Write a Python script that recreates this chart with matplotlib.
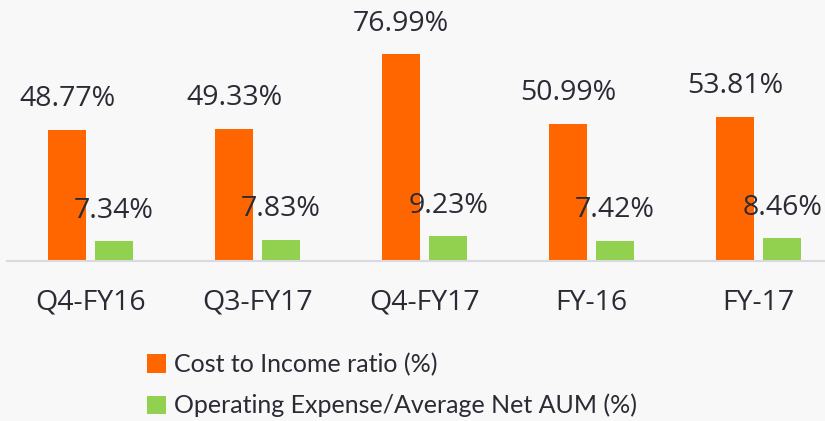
import matplotlib.pyplot as plt
import numpy as np
from matplotlib.patches import Patch

# Data
periods = ["Q4-FY16", "Q3-FY17", "Q4-FY17", "FY-16", "FY-17"]
cost_income = [48.77, 49.33, 76.99, 50.99, 53.81]
opex_aum = [7.34, 7.83, 9.23, 7.42, 8.46]
series_names = ["Cost to Income ratio (%)", "Operating Expense/Average Net AUM (%)"]

orange = "#FF6600"
green = "#92D050"
text_col = "#2B2B35"
bg = "#F8F8F8"

plt.rcParams["font.family"] = ["Open Sans", "DejaVu Sans"]

W, H = 825, 421
fig = plt.figure(figsize=(W / 100, H / 100), dpi=100, facecolor=bg)

# axes placed in pixel terms: left edge 7px, baseline 261px from top
ax = fig.add_axes([7 / W, (H - 261) / H, (W - 7) / W, 261 / H])
ax.set_facecolor(bg)

x = np.arange(len(periods))
w = 0.2275
off = 0.141

b1 = ax.bar(x - off, cost_income, w, color=orange)
b2 = ax.bar(x + off, opex_aum, w, color=green)

for bars, vals in ((b1, cost_income), (b2, opex_aum)):
    for r, v in zip(bars, vals):
        ax.annotate(f"{v:.2f}%", (r.get_x() + r.get_width() / 2, v),
                    xytext=(0, 12), textcoords="offset points",
                    ha="center", va="bottom", fontsize=20.5, color=text_col)

ax.set_xlim(-0.5, 4.398)
ax.set_ylim(0, 97.2)
ax.set_xticks(x)
ax.set_xticklabels(periods, fontsize=20.5, color=text_col)
ax.tick_params(axis="x", length=0, pad=20)
ax.set_yticks([])
for s in ["top", "right", "left"]:
    ax.spines[s].set_visible(False)
ax.spines["bottom"].set_color("#D9D9E0")
ax.spines["bottom"].set_linewidth(1.5)

# legend below the axis
handles = [Patch(facecolor=orange), Patch(facecolor=green)]
leg = fig.legend(handles, series_names, loc="upper left",
                 bbox_to_anchor=(137 / W, 1 - 343 / H),
                 frameon=False, handlelength=0.75, handleheight=0.75,
                 handletextpad=0.35, labelspacing=0.7, borderaxespad=0,
                 prop={"family": ["Lato", "DejaVu Sans"], "size": 18})
for t in leg.get_texts():
    t.set_color(text_col)

fig.savefig("out.png", dpi=100, facecolor=bg)
